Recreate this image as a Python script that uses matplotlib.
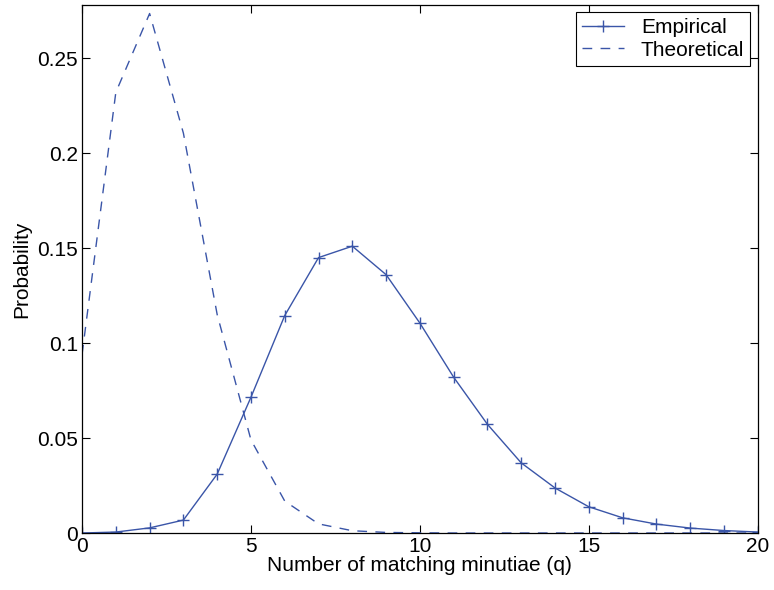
import matplotlib.pyplot as plt
from matplotlib.ticker import FixedLocator, FixedFormatter

plt.rcParams['font.family'] = ['Liberation Sans', 'DejaVu Sans']

q = list(range(0, 21))
empirical = [0.0, 0.0005, 0.0027, 0.0068, 0.031, 0.0715, 0.1145, 0.145, 0.151, 0.136,
             0.1105, 0.082, 0.0572, 0.0369, 0.0237, 0.0138, 0.008, 0.0047, 0.0026,
             0.0013, 0.0005]
theoretical = [0.094, 0.232, 0.2735, 0.2105, 0.115, 0.049, 0.0168, 0.0048, 0.0012,
               0.0003, 0.0001, 0.0, 0.0, 0.0, 0.0, 0.0, 0.0, 0.0, 0.0, 0.0, 0.0]
yticks = [0, 0.05, 0.1, 0.15, 0.2, 0.25]
ytick_labels = ["0", "0.05", "0.1", "0.15", "0.2", "0.25"]

blue = "#3a55a8"

fig = plt.figure(figsize=(7.74, 5.9), dpi=100)
ax = fig.add_axes([0.106, 0.0966, 0.873, 0.895])

ax.plot(q, empirical, color=blue, lw=1.0, marker="+", markersize=9,
        markeredgewidth=1.0, label="Empirical")
ax.plot(q, theoretical, color=blue, lw=1.0, linestyle=(0, (7, 6)),
        label="Theoretical")

ax.set_xlim(0, 20)
ax.set_ylim(0, 0.278)
ax.set_xticks([0, 5, 10, 15, 20])
ax.yaxis.set_major_locator(FixedLocator(yticks))
ax.yaxis.set_major_formatter(FixedFormatter(ytick_labels))
ax.tick_params(direction="in", top=True, right=True, labelsize=15, length=6, width=0.8, pad=3)
for s in ax.spines.values():
    s.set_linewidth(0.9)
ax.set_xlabel("Number of matching minutiae (q)", fontsize=15, labelpad=0)
ax.set_ylabel("Probability", fontsize=15, labelpad=4)

leg = ax.legend(loc="upper right", fontsize=15, fancybox=False, framealpha=1,
                edgecolor="black", borderaxespad=0.35, handlelength=2.0,
                borderpad=0.3, labelspacing=0.15, handletextpad=0.8)
leg.get_frame().set_linewidth(0.8)

fig.savefig("out.png", dpi=100)
